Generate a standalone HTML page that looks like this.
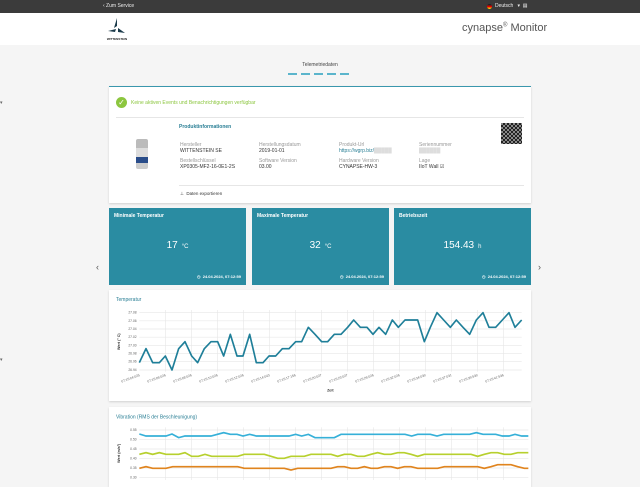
<!DOCTYPE html>
<html><head><meta charset="utf-8">
<style>
*{margin:0;padding:0;box-sizing:border-box}
body{width:640px;height:480px;overflow:hidden;background:#f5f5f5;font-family:"Liberation Sans",sans-serif;position:relative}
.abs{position:absolute}
.card{position:absolute;background:#fff;box-shadow:0 1px 2px rgba(0,0,0,.15)}
.lbl{color:#999;font-size:5px}
.val{color:#333;font-size:5px}
.tile{position:absolute;top:208px;height:77px;width:137px;background:#2a8ca2;color:#fff}
.tile .t{position:absolute;left:5px;top:5px;font-size:5px;font-weight:bold}
.tile .v{position:absolute;width:100%;text-align:center;top:32px;font-size:10px}
.tile .v small{font-size:6px;margin-left:4px}
.tile .d{position:absolute;right:5px;bottom:6px;font-size:4px;font-weight:bold}
</style></head><body>
<div class="abs" style="left:0;top:0;width:640px;height:13px;background:#3b3b3b"></div>
<div class="abs" style="left:103px;top:3px;color:#eee;font-size:5px">‹ Zum Service</div>
<div class="abs" style="left:487px;top:4px;width:5px;height:5px;border-radius:50%;background:linear-gradient(#222 33%,#d00 33%,#d00 66%,#fc0 66%)"></div>
<div class="abs" style="left:495px;top:3px;color:#eee;font-size:5px">Deutsch &nbsp; ▾ &nbsp;▤</div>
<div class="abs" style="left:0;top:13px;width:640px;height:32px;background:#fff"></div>
<svg class="abs" style="left:105px;top:16px" width="24" height="26" viewBox="0 0 24 26">
<path d="M12 2 L9 12 L12 10Z" fill="#1a3a4a"/><path d="M3 15 L11 13 L10 16Z" fill="#1a3a4a"/><path d="M20 17 L13 12 L13 16Z" fill="#1a3a4a"/>
<text x="12" y="24" font-size="3" text-anchor="middle" fill="#222" font-weight="bold">WITTENSTEIN</text></svg>
<div class="abs" style="left:462px;top:22px;color:#555;font-size:11px">cynapse<sup style="font-size:6px">®</sup> Monitor</div>
<div class="abs" style="left:0;width:640px;top:62px;text-align:center;font-size:5px;color:#444">Telemetriedaten</div>
<div class="abs" style="left:288px;top:73px;width:64px;height:2px;background:repeating-linear-gradient(90deg,#5bb5cc 0 9px,transparent 9px 13px)"></div>

<div class="card" style="left:109px;top:86px;width:422px;height:117px;border-top:1px solid #3a97ad">
<div class="abs" style="left:7px;top:10px;width:11px;height:11px;border-radius:50%;background:#8cc63f;color:#fff;font-size:8px;text-align:center;line-height:11px">✓</div>
<div class="abs" style="left:22px;top:13px;font-size:5px;color:#8cc63f">Keine aktiven Events und Benachrichtigungen verfügbar</div>
<div class="abs" style="left:7px;top:30px;width:408px;height:1px;background:#e6e6e6"></div>
<div class="abs" style="left:27px;top:52px;width:12px;height:30px;background:linear-gradient(#bbb 0 30%,#ddd 30% 60%,#2a4d8a 60% 80%,#ccc 80%);border-radius:2px"></div>
<div class="abs" style="left:70px;top:37px;font-size:5px;color:#2a7f95;font-weight:bold">Produktinformationen</div>
<div class="abs lbl" style="left:71px;top:55px">Hersteller</div><div class="abs val" style="left:71px;top:61px">WITTENSTEIN SE</div>
<div class="abs lbl" style="left:71px;top:71px">Bestellschlüssel</div><div class="abs val" style="left:71px;top:77px">XP0305-MF2-16-0E1-2S</div>
<div class="abs lbl" style="left:150px;top:55px">Herstellungsdatum</div><div class="abs val" style="left:150px;top:61px">2019-01-01</div>
<div class="abs lbl" style="left:150px;top:71px">Software Version</div><div class="abs val" style="left:150px;top:77px">03.00</div>
<div class="abs lbl" style="left:230px;top:55px">Produkt-Url</div><div class="abs val" style="left:230px;top:61px;color:#2a7f95">https://wgrp.biz/<span style="color:#ddd">█████</span></div>
<div class="abs lbl" style="left:230px;top:71px">Hardware Version</div><div class="abs val" style="left:230px;top:77px">CYNAPSE-HW-3</div>
<div class="abs lbl" style="left:310px;top:55px">Seriennummer</div><div class="abs val" style="left:310px;top:61px;color:#ddd">██████</div>
<div class="abs lbl" style="left:310px;top:71px">Lage</div><div class="abs val" style="left:310px;top:77px">IIoT Wall ☑</div>
<div class="abs" style="left:392px;top:36px;width:21px;height:21px;background:repeating-conic-gradient(#222 0 25%,#888 0 50%) 0 0/4px 4px"></div>
<div class="abs" style="left:70px;top:98px;width:345px;height:1px;background:#e6e6e6"></div>
<div class="abs val" style="left:71px;top:104px;font-size:4.5px">⊥ &nbsp;Daten exportieren</div>
</div>

<div class="tile" style="left:109px"><div class="t">Minimale Temperatur</div><div class="v">17<small>°C</small></div><div class="d">◷ &nbsp;24.04.2024, 07:12:59</div></div>
<div class="tile" style="left:252px"><div class="t">Maximale Temperatur</div><div class="v">32<small>°C</small></div><div class="d">◷ &nbsp;24.04.2024, 07:12:59</div></div>
<div class="tile" style="left:394px"><div class="t">Betriebszeit</div><div class="v">154.43<small>h</small></div><div class="d">◷ &nbsp;24.04.2024, 07:12:59</div></div>
<div class="abs" style="left:96px;top:262px;font-size:9px;color:#555">‹</div>
<div class="abs" style="left:538px;top:262px;font-size:9px;color:#555">›</div>

<div class="card" style="left:109px;top:290px;width:422px;height:111px"></div>
<div class="card" style="left:109px;top:407px;width:422px;height:80px"></div>

<svg class="abs" style="left:105px;top:290px" width="430" height="190" viewBox="0 0 1290 570" font-family="Liberation Sans">
<text x="33" y="33" font-size="15" fill="#2a7f95">Temperatur</text>
<g stroke="#e8e8e8" stroke-width="2">
<line x1="103" y1="68" x2="1250" y2="68"/><line x1="103" y1="92.5" x2="1250" y2="92.5"/><line x1="103" y1="117" x2="1250" y2="117"/><line x1="103" y1="141.5" x2="1250" y2="141.5"/><line x1="103" y1="166" x2="1250" y2="166"/><line x1="103" y1="191" x2="1250" y2="191"/><line x1="103" y1="215" x2="1250" y2="215"/><line x1="103" y1="240" x2="1250" y2="240"/>
<line x1="181" y1="60" x2="181" y2="245"/><line x1="259" y1="60" x2="259" y2="245"/><line x1="337" y1="60" x2="337" y2="245"/><line x1="415" y1="60" x2="415" y2="245"/><line x1="493" y1="60" x2="493" y2="245"/><line x1="571" y1="60" x2="571" y2="245"/><line x1="649" y1="60" x2="649" y2="245"/><line x1="727" y1="60" x2="727" y2="245"/><line x1="805" y1="60" x2="805" y2="245"/><line x1="883" y1="60" x2="883" y2="245"/><line x1="961" y1="60" x2="961" y2="245"/><line x1="1039" y1="60" x2="1039" y2="245"/><line x1="1117" y1="60" x2="1117" y2="245"/><line x1="1195" y1="60" x2="1195" y2="245"/>
</g>
<g font-size="10" fill="#666" text-anchor="end">
<text x="95" y="71">27.08</text><text x="95" y="95.5">27.06</text><text x="95" y="120">27.04</text><text x="95" y="144.5">27.02</text><text x="95" y="169">27.00</text><text x="95" y="194">26.98</text><text x="95" y="218">26.96</text><text x="95" y="243">26.94</text>
</g>
<text transform="translate(45,155) rotate(-90)" font-size="11" font-weight="bold" text-anchor="middle" fill="#333">Wert (° C)</text>
<g font-size="10" fill="#666" text-anchor="end">
<text transform="translate(105,258) rotate(-20)">07:15:04:025</text><text transform="translate(183,258) rotate(-20)">07:15:06:026</text><text transform="translate(261,258) rotate(-20)">07:15:08:026</text><text transform="translate(339,258) rotate(-20)">07:15:10:026</text><text transform="translate(417,258) rotate(-20)">07:15:12:026</text><text transform="translate(495,258) rotate(-20)">07:15:14:043</text><text transform="translate(573,258) rotate(-20)">07:15:17:156</text><text transform="translate(651,258) rotate(-20)">07:15:20:027</text><text transform="translate(729,258) rotate(-20)">07:15:23:027</text><text transform="translate(807,258) rotate(-20)">07:15:26:026</text><text transform="translate(885,258) rotate(-20)">07:15:32:026</text><text transform="translate(963,258) rotate(-20)">07:15:34:030</text><text transform="translate(1041,258) rotate(-20)">07:15:37:031</text><text transform="translate(1119,258) rotate(-20)">07:15:39:530</text><text transform="translate(1197,258) rotate(-20)">07:15:41:536</text>
</g>
<text x="676" y="305" font-size="11" font-weight="bold" text-anchor="middle" fill="#333">Zeit</text>
<polyline fill="none" stroke="#1f7f99" stroke-width="5" stroke-linejoin="round" points="103,218 123,176 143,218 163,218 181,198 201,240 221,176 240,155 260,198 278,218 298,176 318,155 338,155 356,198 376,133 396,198 414,198 434,133 454,218 474,218 492,198 512,198 532,176 552,176 572,155 590,155 610,112 630,133 650,155 668,155 688,133 708,133 728,112 746,90 766,112 786,112 804,133 822,112 842,133 862,90 880,112 900,90 920,90 938,90 958,155 976,112 996,68 1016,90 1036,112 1054,90 1074,112 1094,133 1114,90 1134,68 1152,112 1172,112 1192,90 1212,68 1230,112 1250,90"/>

<text x="33" y="386" font-size="15" fill="#2a7f95">Vibration (RMS der Beschleunigung)</text>
<g stroke="#e8e8e8" stroke-width="2">
<line x1="103" y1="420" x2="1270" y2="420"/><line x1="103" y1="448" x2="1270" y2="448"/><line x1="103" y1="477" x2="1270" y2="477"/><line x1="103" y1="505" x2="1270" y2="505"/><line x1="103" y1="534" x2="1270" y2="534"/><line x1="103" y1="562" x2="1270" y2="562"/>
<line x1="181" y1="412" x2="181" y2="570"/><line x1="259" y1="412" x2="259" y2="570"/><line x1="337" y1="412" x2="337" y2="570"/><line x1="415" y1="412" x2="415" y2="570"/><line x1="493" y1="412" x2="493" y2="570"/><line x1="571" y1="412" x2="571" y2="570"/><line x1="649" y1="412" x2="649" y2="570"/><line x1="727" y1="412" x2="727" y2="570"/><line x1="805" y1="412" x2="805" y2="570"/><line x1="883" y1="412" x2="883" y2="570"/><line x1="961" y1="412" x2="961" y2="570"/><line x1="1039" y1="412" x2="1039" y2="570"/><line x1="1117" y1="412" x2="1117" y2="570"/><line x1="1195" y1="412" x2="1195" y2="570"/>
</g>
<g font-size="10" fill="#666" text-anchor="end">
<text x="95" y="423">0.55</text><text x="95" y="451">0.50</text><text x="95" y="480">0.45</text><text x="95" y="508">0.40</text><text x="95" y="537">0.35</text><text x="95" y="565">0.30</text>
</g>
<text transform="translate(45,490) rotate(-90)" font-size="11" font-weight="bold" text-anchor="middle" fill="#333">Wert (m/s²)</text>
<polyline fill="none" stroke="#36b0d8" stroke-width="5" points="103,432 123,438 183,438 201,432 221,443 240,438 318,438 356,428 376,433 396,433 414,438 434,433 454,438 552,438 572,433 590,438 610,433 630,443 688,443 708,433 900,433 920,438 938,433 976,433 996,438 1016,433 1094,433 1114,428 1134,433 1172,433 1192,438 1212,438 1230,433 1250,438 1270,438"/>
<polyline fill="none" stroke="#b7d02e" stroke-width="5" points="103,493 123,488 143,493 163,488 183,493 221,493 240,488 260,499 280,499 300,493 320,499 398,499 418,493 478,493 498,499 518,505 538,505 558,499 598,499 618,493 678,493 698,499 718,493 738,493 758,499 778,499 798,493 818,488 838,493 858,493 878,488 898,488 918,493 938,499 958,493 1098,493 1118,499 1138,493 1158,488 1178,488 1198,493 1218,493 1238,488 1270,488"/>
<polyline fill="none" stroke="#e0841e" stroke-width="5" points="103,535 123,530 143,535 183,535 203,530 398,530 418,535 538,535 558,540 578,535 678,535 698,530 718,530 738,535 758,535 778,530 798,535 818,535 838,530 858,530 878,535 898,530 918,530 938,535 998,535 1018,530 1118,530 1138,535 1158,530 1178,524 1218,524 1238,530 1258,535 1270,535"/>
</svg>
<div class="abs" style="left:0;top:100px;font-size:5px;color:#666">▾</div>
<div class="abs" style="left:0;top:357px;font-size:5px;color:#666">▾</div>
</body></html>
